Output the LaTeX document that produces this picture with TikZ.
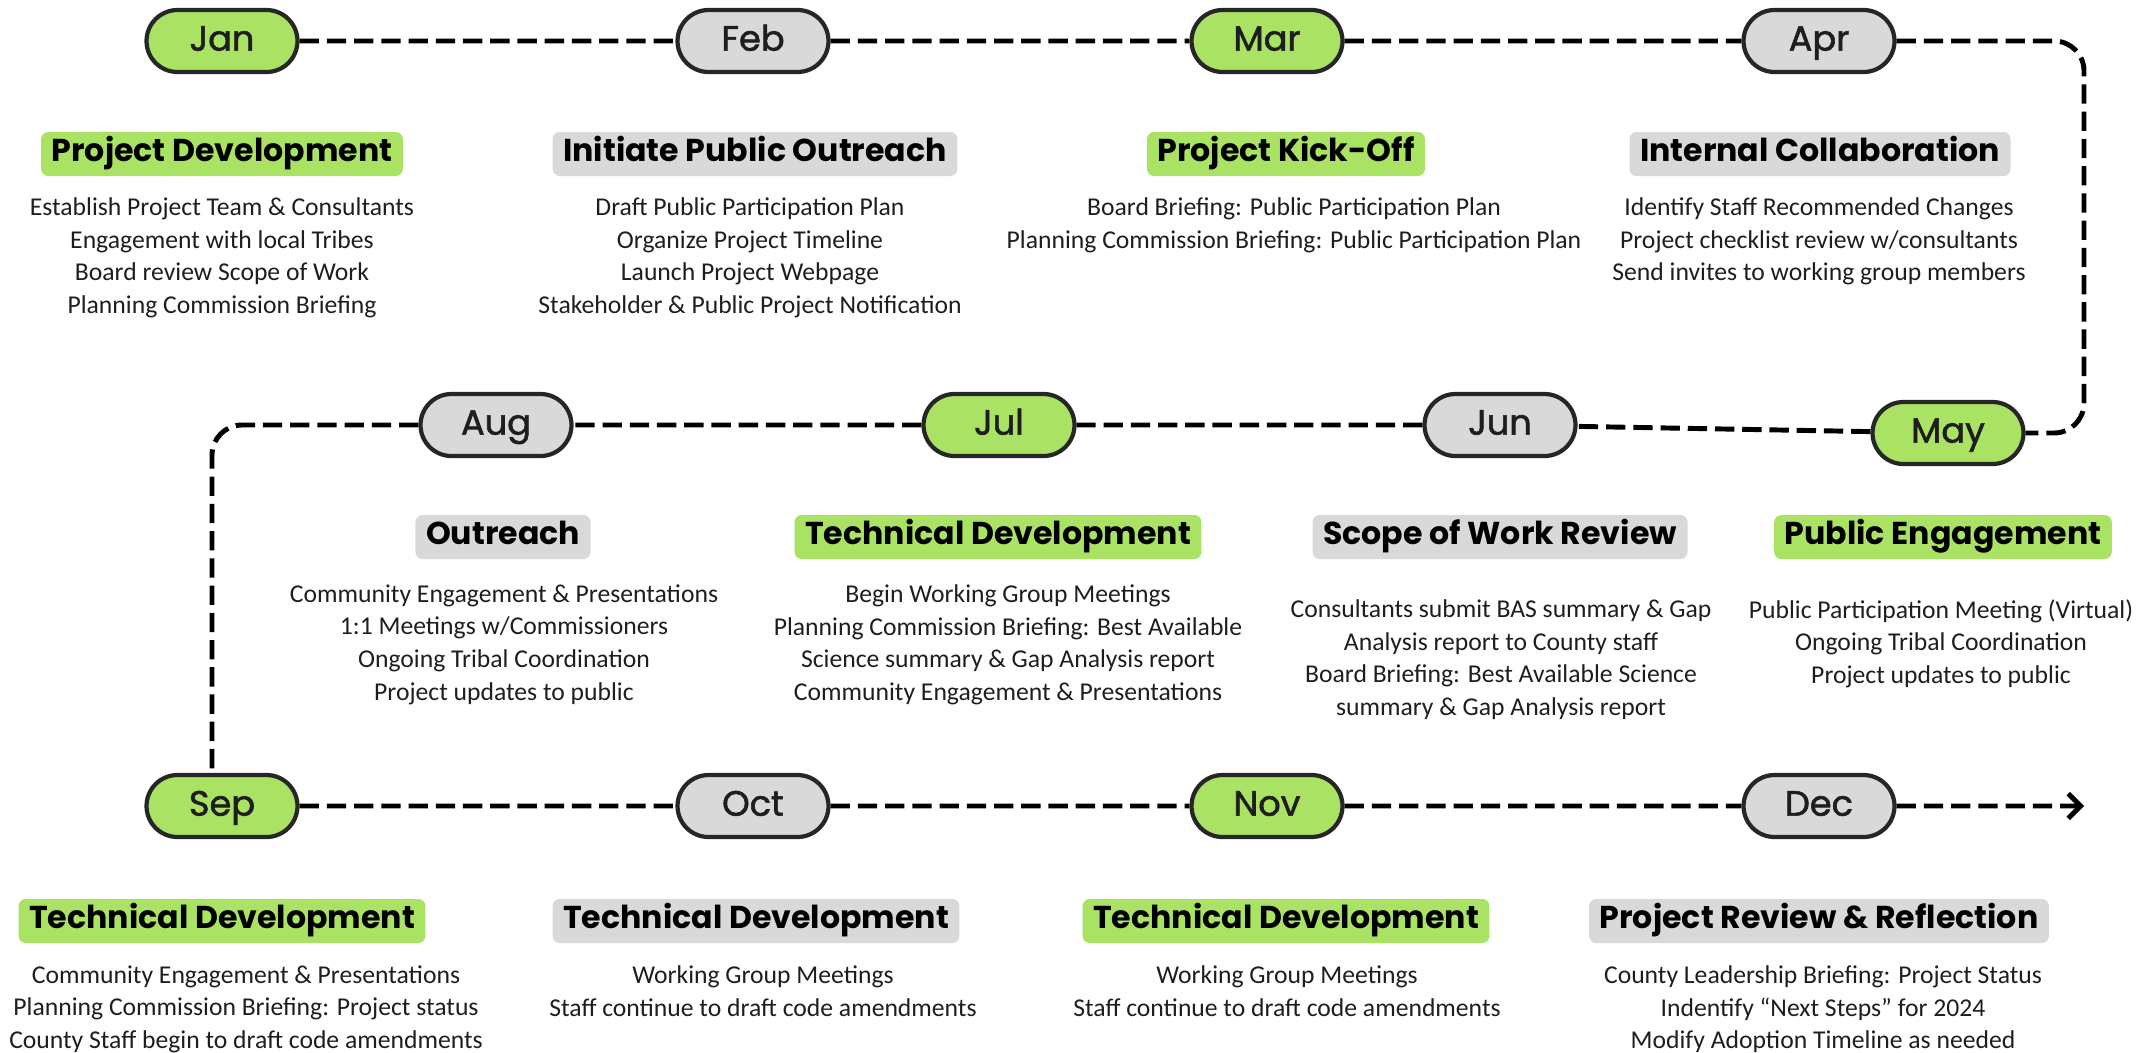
\documentclass[tikz,border=0pt]{standalone}
\usepackage{fontspec}
\setmainfont{Carlito}
\newfontfamily\popfont{Poppins}
\newfontfamily\monfont{Poppins}[FakeBold=1.6]
\usetikzlibrary{arrows.meta,shapes.misc}

\definecolor{tlgreen}{RGB}{170,226,100}
\definecolor{tlgray}{RGB}{217,217,217}
\definecolor{tltext}{RGB}{30,30,30}

\tikzset{
  monthbox/.style={rounded rectangle, draw=black!85, line width=2.4pt,
    minimum width=3.02cm, minimum height=1.24cm, inner sep=0pt,
    text height=15pt, text depth=4pt,
    font=\monfont\fontsize{20}{24}\selectfont, text=tltext},
  mgreen/.style={monthbox, fill=tlgreen},
  mgray/.style={monthbox, fill=tlgray},
  headbox/.style={rounded corners=4pt, inner xsep=6pt, inner ysep=0pt,
    minimum height=0.88cm, text height=13pt, text depth=4pt,
    font=\popfont\bfseries\fontsize{18}{21}\selectfont},
  hgreen/.style={headbox, fill=tlgreen},
  hgray/.style={headbox, fill=tlgray},
  itemtext/.style={anchor=north, align=center, inner sep=0pt, text=tltext,
    font=\fontsize{14.6}{18.7}\selectfont},
  link/.style={line width=2.8pt, dash pattern=on 11pt off 4.5pt, rounded corners=0.6cm}
}

\begin{document}
\begin{tikzpicture}[x=0.02cm, y=-0.02cm]
\useasboundingbox (0,0) rectangle (2136,1052);

% months
\node[mgreen] (jan) at (222,41)   {Jan};
\node[mgray]  (feb) at (753,41)   {Feb};
\node[mgreen] (mar) at (1267,41)  {Mar};
\node[mgray]  (apr) at (1819,41)  {Apr};
\node[mgreen] (may) at (1948,433) {May};
\node[mgray]  (jun) at (1500,425) {Jun};
\node[mgreen] (jul) at (999,425)  {Jul};
\node[mgray]  (aug) at (496,425)  {Aug};
\node[mgreen] (sep) at (222,806)  {Sep};
\node[mgray]  (oct) at (753,806)  {Oct};
\node[mgreen] (nov) at (1267,806) {Nov};
\node[mgray]  (dec) at (1819,806) {Dec};
\coordinate (edge_r) at (2084,0);
\coordinate (tl_end) at (2084,806);

% connectors
\draw[link] (jan) -- (feb) -- (mar) -- (apr);
\draw[link] (apr.east) -| (edge_r |- may.east) -- (may.east);
\draw[link] (may) -- (jun) -- (jul) -- (aug);
\draw[link] (aug.west) -| ([xshift=-0.2cm]sep.north);
\draw[link] (sep) -- (oct) -- (nov) -- (dec);
\draw[link, -{Straight Barb[length=7pt,width=14pt]}] (dec) -- (tl_end);

% headings
\node[hgreen] (h_jan) at (222,154)  {Project Development};
\node[hgray]  (h_feb) at (755,154)  {Initiate Public Outreach};
\node[hgreen] (h_mar) at (1286,154) {Project Kick-Off};
\node[hgray]  (h_apr) at (1820,154) {Internal Collaboration};
\node[hgreen] (h_may) at (1943,537) {Public Engagement};
\node[hgray]  (h_jun) at (1500,537) {Scope of Work Review};
\node[hgreen] (h_jul) at (998,537)  {Technical Development};
\node[hgray]  (h_aug) at (503,537)  {Outreach};
\node[hgreen] (h_sep) at (222,921)  {Technical Development};
\node[hgray]  (h_oct) at (756,921)  {Technical Development};
\node[hgreen] (h_nov) at (1286,921) {Technical Development};
\node[hgray]  (h_dec) at (1819,921) {Project Review \& Reflection};

% items
\node[itemtext] (t_jan) at (222,197) {Establish Project Team \& Consultants\\Engagement with local Tribes\\Board review Scope of Work\\Planning Commission Briefing};
\node[itemtext] (t_feb) at (750,197) {Draft Public Participation Plan\\Organize Project Timeline\\Launch Project Webpage\\Stakeholder \& Public Project Notification};
\node[itemtext] (t_mar) at (1294,197) {Board Briefing: Public Participation Plan\\Planning Commission Briefing: Public Participation Plan};
\node[itemtext] (t_apr) at (1819,197) {Identify Staff Recommended Changes\\Project checklist review w/consultants\\Send invites to working group members};
\node[itemtext] (t_may) at (1941,599) {Public Participation Meeting (Virtual)\\Ongoing Tribal Coordination\\Project updates to public};
\node[itemtext] (t_jun) at (1501,599) {Consultants submit BAS summary \& Gap\\Analysis report to County staff\\Board Briefing: Best Available Science\\summary \& Gap Analysis report};
\node[itemtext] (t_jul) at (1008,584) {Begin Working Group Meetings\\Planning Commission Briefing: Best Available\\Science summary \& Gap Analysis report\\Community Engagement \& Presentations};
\node[itemtext] (t_aug) at (504,584) {Community Engagement \& Presentations\\1:1 Meetings w/Commissioners\\Ongoing Tribal Coordination\\Project updates to public};
\node[itemtext] (t_sep) at (246,965) {Community Engagement \& Presentations\\Planning Commission Briefing: Project status\\County Staff begin to draft code amendments};
\node[itemtext] (t_oct) at (763,965) {Working Group Meetings\\Staff continue to draft code amendments};
\node[itemtext] (t_nov) at (1287,965) {Working Group Meetings\\Staff continue to draft code amendments};
\node[itemtext] (t_dec) at (1823,965) {County Leadership Briefing: Project Status\\Indentify “Next Steps” for 2024\\Modify Adoption Timeline as needed};
\end{tikzpicture}
\end{document}
